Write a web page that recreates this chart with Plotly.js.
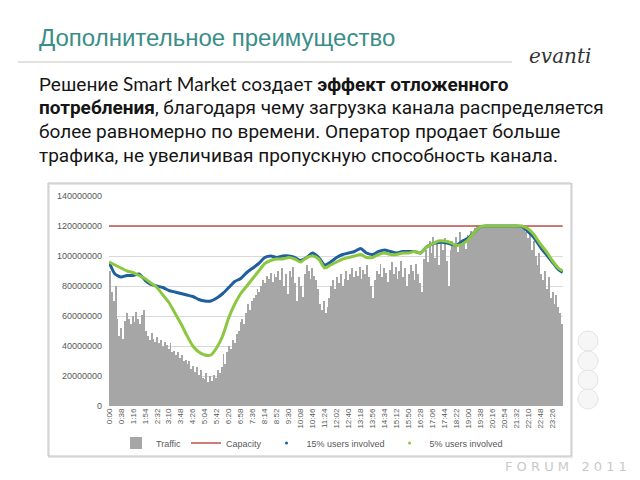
<!DOCTYPE html>
<html>
<head>
<meta charset="utf-8">
<script src="https://cdn.plot.ly/plotly-3.0.1.min.js"></script>
<style>html,body{margin:0;padding:0;background:#fff;}#chart{width:640px;height:480px;}</style>
</head>
<body>
<div id="chart"></div>
<script>
// ---- data (values in millions) ----
const UNIT = 1e6;
const STEP_MIN = 6; // traffic sample every 6 minutes
const tickLabels = ["0:00","0:38","1:16","1:54","2:32","3:10","3:48","4:26","5:04","5:42","6:20","6:58","7:36","8:14","8:52","9:30","10:08","10:46","11:24","12:02","12:40","13:18","13:56","14:34","15:12","15:50","16:28","17:06","17:44","18:22","19:00","19:38","20:16","20:54","21:32","22:10","22:48","23:26"];
const traffic = [
 90,76,70,80,58,47,52,45,57,62,
 58,55,60,56,63,58,55,61,64,50,
 47,44,49,45,43,46,42,44,40,43,
 41,38,42,36,37,34,36,32,34,30,
 31,28,30,25,27,23,26,21,24,19,
 18,22,16,20,17,21,19,24,22,26,
 35,28,36,40,38,44,42,48,50,56,
 58,55,62,68,64,70,72,74,78,76,
 80,84,82,87,85,89,83,88,86,90,
 84,92,80,88,75,90,86,93,82,70,
 86,80,73,88,94,90,85,92,87,84,
 78,68,64,70,62,66,72,80,84,78,
 86,82,88,80,85,90,84,88,92,86,
 90,87,93,85,91,88,94,86,80,72,
 84,90,88,95,86,92,89,83,91,96,
 88,93,85,90,97,86,92,80,88,94,
 90,84,95,88,82,76,98,104,96,110,
 102,113,99,108,94,110,104,112,97,80,
 104,110,106,113,103,116,108,111,105,114,
 112,117,115,119,120,120,120,120,120,120,
 120,120,120,120,120,120,120,120,120,120,
 120,120,120,120,120,120,120,120,120,118,
 116,112,118,104,110,100,94,102,88,84,
 90,78,86,72,76,68,74,66,62,55
];
const capacity = [120, 120];
const capacityTimes = [0, 1439];
const lineTimes = [0,19,38,57,76,95,114,133,152,171,190,209,228,247,266,285,304,323,342,361,380,399,418,437,456,475,494,513,532,551,570,589,608,627,646,665,684,703,722,741,760,779,798,817,836,855,874,893,912,931,950,969,988,1007,1026,1045,1064,1083,1102,1121,1140,1159,1178,1197,1216,1235,1254,1273,1292,1311,1330,1349,1368,1387,1406,1425,1439];
const users15 = [
 96,88,86,87,87,88,84,81,80,79,
 77,76,75,74,73,71,70,70,72,75,
 79,83,85,89,92,95,99,100,99,100,
 100,99,97,99,102,99,94,96,99,101,
 102,103,105,102,101,103,104,103,102,103,
 103,103,102,106,108,109,109,108,107,110,
 112,116,119.5,120,120,120,120,120,120,119.5,
 116,112,106,101,96,91,89
];
const users5 = [
 96,94,92,90,89,87,85,82,79,74,
 69,62,55,47,40,36,34,34,39,47,
 59,68,75,80,85,90,95,97,98,98,
 99,98,96,99,100,98,92,94,96,98,
 99,100,101,99,99,101,102,101,101,102,
 102,103,102,106,108,110,110,109,107,108,
 111,116,119.5,120,120,120,120,120,120,120,
 118,114,108,103,97,92,90
];
const seriesNames = ["Traffic","Capacity","15% users involved","5% users involved"];

// ---- helpers ----
const toMin = s => { const [h,m] = s.split(":").map(Number); return h*60+m; };
const scale = a => a.map(v => v*UNIT);
const M = {l:109, r:77, t:196, b:74};
const PW = 640 - M.l - M.r, PH = 480 - M.t - M.b;
const xp = px => (px - M.l)/PW;
const yp = py => (480 - M.b - py)/PH;

const COL = {traffic:'#a6a6a6', cap:'#c0504d', blue:'#1f5f9f', green:'#8cc83f'};

const traces = [
 {type:'bar', name:seriesNames[0], x:traffic.map((_,i)=>i*STEP_MIN), y:scale(traffic),
  width:STEP_MIN, offset:0, marker:{color:COL.traffic, line:{width:0}}, hoverinfo:'skip'},
 {type:'scatter', mode:'lines', name:seriesNames[1], x:capacityTimes, y:scale(capacity),
  line:{color:COL.cap, width:1.6}},
 {type:'scatter', mode:'lines', name:seriesNames[2], x:lineTimes, y:scale(users15),
  line:{color:COL.blue, width:3, shape:'spline', smoothing:0.6}, showlegend:false},
 {type:'scatter', mode:'lines', name:seriesNames[3], x:lineTimes, y:scale(users5),
  line:{color:COL.green, width:3, shape:'spline', smoothing:0.6}, showlegend:false},
 {type:'scatter', mode:'markers', name:seriesNames[2], x:[null], y:[null],
  marker:{color:COL.blue, size:3}},
 {type:'scatter', mode:'markers', name:seriesNames[3], x:[null], y:[null],
  marker:{color:COL.green, size:3}}
];

const bodyFont = {family:'Roboto, "Liberation Sans", sans-serif', size:19, color:'#151515'};
const bodyLines = [
 ['Решение <span style="font-family:Lato">Smart Market</span> создает <b>эффект отложенного</b>', 84],
 ['<b>потребления</b>, благодаря чему загрузка канала распределяется', 108],
 ['более равномерно по времени. Оператор продает больше', 131],
 ['трафика, не увеличивая пропускную способность канала.', 155]
];

const annotations = [
 {text:'Дополнительное преимущество', xref:'paper', yref:'paper', x:xp(37), y:yp(37),
  xanchor:'left', yanchor:'middle', showarrow:false,
  font:{family:'"Liberation Sans", Arial, sans-serif', size:24, color:'#3b8d89'}},
 {text:'<i>evanti</i>', xref:'paper', yref:'paper', x:xp(560), y:yp(56),
  xanchor:'center', yanchor:'middle', showarrow:false,
  font:{family:'"DejaVu Serif", serif', size:20, color:'#333'}},
 {text:'F O R U M   2 0 1 1', xref:'paper', yref:'paper', x:xp(566), y:yp(466),
  xanchor:'center', yanchor:'middle', showarrow:false,
  font:{family:'"DejaVu Sans", sans-serif', size:13, color:'#c9c9c9'}}
].concat(bodyLines.map(([t,py]) => ({text:t, xref:'paper', yref:'paper', x:xp(37), y:yp(py),
  xanchor:'left', yanchor:'middle', showarrow:false, font:bodyFont})));

const shapes = [
 {type:'line', xref:'paper', yref:'paper', x0:xp(18), x1:xp(512), y0:yp(62), y1:yp(62),
  line:{color:'#c4c4c4', width:1}},
 {type:'rect', xref:'paper', yref:'paper', x0:xp(49), x1:xp(572), y0:yp(457), y1:yp(184),
  line:{color:'#e6e6e6', width:2}, layer:'below'},
 {type:'rect', xref:'paper', yref:'paper', x0:xp(48), x1:xp(571), y0:yp(456), y1:yp(183),
  line:{color:'#c2c2c2', width:1}, layer:'below'}
].concat([341,361,380,399].map(cy => ({type:'circle', xref:'paper', yref:'paper',
  x0:xp(578), x1:xp(598), y0:yp(cy+10), y1:yp(cy-10),
  line:{color:'#e4e4e4', width:1}, fillcolor:'#f6f6f6', layer:'below'})));

const layout = {
 width:640, height:480, margin:M, paper_bgcolor:'#fff', plot_bgcolor:'rgba(0,0,0,0)',
 bargap:0, showlegend:true,
 font:{family:'"Liberation Sans", Arial, sans-serif', size:8, color:'#595959'},
 xaxis:{range:[0,1440], tickvals:tickLabels.map(toMin), ticktext:tickLabels, tickangle:-90,
  showgrid:false, zeroline:false, showline:false, ticks:'', tickfont:{size:8, color:'#595959'}},
 yaxis:{range:[0,140*UNIT], dtick:20*UNIT, tickformat:'d', gridcolor:'#d9d9d9', gridwidth:1,
  zeroline:false, showline:false, ticks:'', ticklabelstandoff:6, tickfont:{size:9, color:'#595959'}},
 legend:{orientation:'h', x:xp(312), xanchor:'center', y:yp(443), yanchor:'middle',
  font:{size:9, color:'#595959'}, itemwidth:30, traceorder:'normal', bgcolor:'rgba(0,0,0,0)'},
 annotations:annotations, shapes:shapes
};

Plotly.newPlot('chart', traces, layout, {displayModeBar:false, staticPlot:true});
</script>
</body>
</html>
